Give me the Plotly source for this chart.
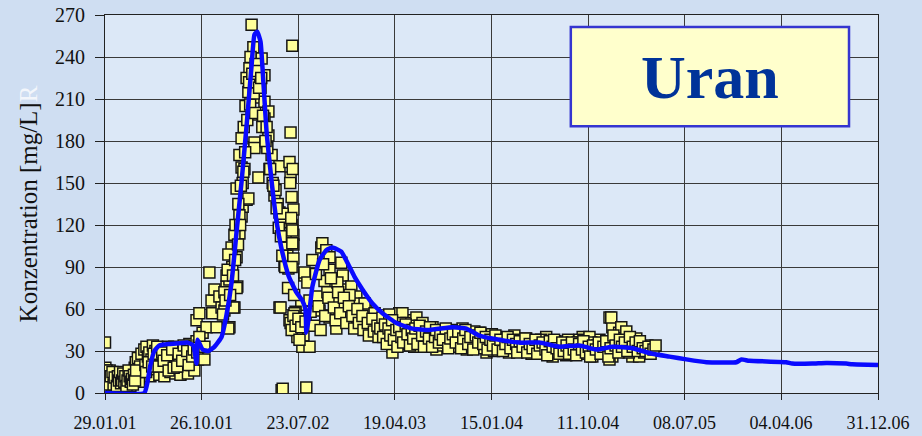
import pandas as pd
import plotly.graph_objects as go

# Start of the measurement series; all x values are days counted from here
START = pd.Timestamp("2001-01-29")

# Measured uranium concentrations (days since start, mg/L)
meas_days = [
    0, 1, 2, 3, 5, 7, 9, 11, 13, 15, 18, 20, 23, 26, 29, 32, 35, 38, 41, 44,
    47, 50, 53, 56, 59, 62, 65, 68, 71, 74, 77, 80, 83, 86, 89, 92, 95, 98, 102, 106,
    4, 8, 12, 16, 21, 24, 27, 33, 36, 39, 42, 45, 48, 51, 54, 57, 60, 63, 66, 69,
    72, 75, 78, 81, 84, 87,
    110, 113, 116, 120, 124, 127, 130, 134, 138, 141, 144, 148, 152, 155, 158, 162, 166, 169, 172, 176,
    180, 183, 186, 190, 194, 197, 200, 204, 208, 211, 214, 218, 222, 225, 228, 232, 236, 239, 242, 246,
    250, 253, 256, 260,
    115, 122, 132, 136, 146, 150, 160, 164, 174, 178, 188, 192, 202, 206, 216, 220, 230, 234, 244, 248,
    258, 262,
    256, 264, 273, 278, 284, 292, 298, 300, 306, 312, 320, 326, 334, 340, 348, 348, 356, 362, 368, 370,
    376, 382, 385, 396, 264, 278,
    410, 524, 415, 438, 404, 446, 396, 401, 429, 446, 410, 457, 446, 382, 418, 457, 519, 376, 418, 466,
    488, 516, 519, 429, 382, 368, 401, 474, 376, 488, 522, 527, 499, 522, 362, 527, 354, 508, 527, 345,
    502, 513, 340, 368, 334, 488, 359, 345, 530, 527, 541, 555, 549, 558, 494, 497, 563, 491,
    407, 421, 426, 393, 435, 440, 388, 454, 460, 469, 477, 483, 497, 505, 510, 390, 385, 373, 365,
    330, 337, 343, 350, 358, 364, 372, 378, 380, 387, 392, 398, 403, 406, 412, 416, 420, 424, 431, 437,
    442, 449, 452, 462, 471, 480, 486, 492, 496, 504, 512, 518, 521, 525, 527, 529, 533, 536,
    524, 524, 522, 516, 530, 535, 538, 552, 572, 552, 558, 566, 572, 580, 594, 605, 608, 619, 628, 600,
    628, 647, 656, 628, 636, 661, 665, 656, 678, 689, 703, 712, 731, 740, 759, 767, 795, 804, 823, 832,
    851, 871, 888, 899,
    519, 522, 527, 533, 541, 544, 549, 561,
    614, 622, 642, 650, 670, 684, 698, 717, 726, 745, 754, 773, 781, 809, 818, 837, 846, 860, 879,
    575, 585, 590, 597, 603, 610, 616, 625, 632, 640, 645, 652, 658, 668, 675, 682, 692, 697, 706, 710,
    720, 723, 735, 738, 748, 752, 762, 765, 770,
    776, 795, 809, 804, 832, 843, 860, 871, 888, 916, 927, 935, 963, 1000, 1019, 1047, 1067, 1095, 1123, 1150,
    1178, 1206, 1234, 1252, 1280, 1308, 1336, 1355, 1383, 1411, 1419, 1438, 1419, 1458, 1475,
    1416, 1444, 1458, 1486, 1517, 1522, 1494, 1411, 1363, 1290, 1327, 1355,
    785, 790, 800, 812, 820, 826, 838, 850, 855, 865, 877, 884, 895, 903, 912, 920, 930, 942, 950, 957,
    970, 978, 985, 993, 1005, 1012, 1026, 1033, 1040, 1055, 1060, 1073, 1082, 1088, 1102, 1110, 1117, 1130, 1138, 1145,
    1157, 1165, 1172, 1185, 1193, 1200, 1213, 1220, 1228, 1240, 1247, 1260, 1267, 1275, 1287, 1295, 1302, 1315, 1322, 1330,
    1342, 1349, 1360, 1370, 1377, 1390, 1398, 1405, 1425, 1432, 1450, 1465, 1472, 1480, 1500, 1508, 1530,
    778, 783, 788, 793, 798, 803, 808, 815, 818, 823, 829, 834, 841, 846, 853, 858, 862, 868, 874, 880,
    887, 892, 898, 906, 909, 915, 923, 926, 934, 938, 945, 953, 960, 966, 973, 981, 988, 996, 1002, 1008,
    1016, 1022, 1030, 1037, 1044, 1050, 1058, 1065, 1070, 1078, 1085, 1092, 1098, 1106, 1113, 1120, 1126, 1134, 1141, 1150,
    1153, 1160, 1168, 1176, 1181, 1188, 1196, 1204, 1209, 1216, 1224, 1232, 1237, 1244, 1252, 1256, 1263, 1271, 1279, 1283,
    1291, 1298, 1306, 1311, 1318, 1326, 1334, 1338, 1345, 1353, 1357, 1365, 1373, 1381, 1386, 1394, 1402, 1408, 1414, 1422,
    1428, 1436, 1440, 1446, 1454, 1461, 1468, 1476, 1484, 1490, 1496, 1504, 1512, 1520, 1526, 1534, 1540,
]
meas_values = [
    36, 18, 15, 12, 8, 14, 5, 10, 16, 7, 12, 4, 9, 13, 6, 11, 8, 14, 5, 10,
    12, 6, 9, 4, 11, 7, 13, 9, 5, 12, 15, 10, 18, 22, 13, 25, 8, 19, 28, 15,
    16, 9, 6, 12, 15, 6, 11, 5, 12, 9, 15, 7, 9, 14, 8, 12, 5, 9, 16, 12,
    8, 10, 6, 13, 9, 16,
    31, 20, 33, 26, 29, 12, 24, 34, 17, 30, 21, 27, 13, 32, 21, 25, 12, 30, 19, 33,
    24, 15, 28, 21, 33, 14, 26, 30, 22, 13, 32, 26, 19, 31, 24, 14, 35, 28, 20, 33,
    16, 30, 37, 24,
    15, 22, 19, 28, 33, 19, 29, 23, 27, 16, 31, 18, 19, 28, 23, 34, 30, 20, 26, 31,
    29, 34,
    52, 57, 43, 24, 47, 86, 66, 57, 74, 47, 69, 61, 59, 76, 81, 47, 90, 61, 97, 76,
    114, 126, 133, 138, 40, 33,
    263, 248, 247, 239, 232, 227, 225, 215, 211, 208, 199, 201, 196, 182, 179, 184, 186, 170, 175, 170,
    162, 165, 154, 154, 161, 146, 139, 141, 127, 129, 140, 131, 122, 120, 113, 113, 104, 104, 106, 99,
    91, 89, 84, 75, 72, 61, 61, 46, 56, 49, 44, 41, 63, 84, 2, 3, 4, 61,
    240, 235, 222, 205, 218, 190, 190, 175, 160, 150, 145, 135, 128, 112, 98, 160, 150, 135, 120,
    56, 66, 88, 70, 84, 95, 106, 120, 148, 158, 172, 195, 222, 206, 228, 214, 200, 230, 218, 225,
    198, 180, 190, 160, 148, 132, 118, 112, 98, 90, 75, 150, 125, 160, 96, 70, 58, 52,
    116, 107, 90, 52, 57, 45, 40, 33, 33, 52, 86, 79, 66, 95, 69, 104, 107, 102, 97, 59,
    54, 46, 59, 88, 76, 93, 84, 66, 74, 76, 69, 64, 59, 52, 43, 52, 45, 33, 57, 43,
    52, 47, 43, 38,
    50, 45, 55, 48, 53, 38, 47, 51,
    80, 72, 66, 79, 62, 70, 58, 55, 64, 48, 57, 50, 44, 48, 40, 47, 36, 44, 41,
    58, 48, 85, 62, 45, 92, 55, 68, 82, 61, 52, 72, 57, 68, 50, 62, 55, 46, 60, 50,
    55, 45, 50, 41, 53, 44, 48, 40, 46,
    54, 56, 36, 29, 57, 50, 40, 54, 50, 47, 31, 38, 43, 46, 33, 43, 29, 40, 33, 31,
    39, 28, 40, 26, 33, 28, 40, 28, 38, 54, 47, 43, 26, 38, 26,
    54, 47, 44, 39, 34, 29, 26, 24, 26, 27, 38, 40,
    44, 38, 48, 42, 35, 50, 45, 37, 48, 33, 44, 38, 46, 35, 42, 37, 44, 34, 41, 36,
    45, 33, 40, 36, 42, 31, 38, 44, 34, 39, 32, 37, 42, 30, 36, 33, 38, 29, 36, 41,
    34, 30, 37, 32, 28, 36, 31, 38, 29, 34, 31, 37, 29, 35, 31, 38, 33, 30, 36, 28,
    34, 31, 36, 30, 34, 29, 35, 31, 36, 30, 33, 29, 35, 31, 33, 29, 31,
    40, 49, 35, 46, 41, 52, 38, 45, 33, 47, 40, 36, 49, 42, 34, 45, 39, 46, 35, 48,
    41, 33, 44, 39, 47, 33, 40, 45, 36, 42, 38, 46, 32, 39, 42, 36, 44, 32, 39, 45,
    35, 40, 31, 41, 36, 43, 35, 40, 31, 38, 34, 41, 31, 38, 30, 35, 40, 32, 38, 35,
    29, 37, 33, 39, 29, 35, 32, 38, 28, 34, 36, 31, 27, 37, 33, 38, 32, 28, 36, 30,
    34, 28, 36, 31, 27, 35, 31, 37, 29, 33, 26, 34, 31, 36, 28, 33, 37, 26, 32, 41,
    34, 29, 38, 33, 36, 30, 40, 33, 36, 30, 37, 32, 30, 33, 28, 31, 34,
]

# Model curve (days since start, mg/L)
model_days = [
    0, 110, 119, 127, 138, 152, 180, 208, 231, 247, 256, 259, 273, 289, 306, 326, 340, 354, 368, 382,
    396, 410, 418, 426, 435, 443, 452, 466, 480, 493, 513, 535, 552, 561, 563, 569, 580, 600, 619, 636,
    661, 678, 698, 720, 748, 776, 815, 860, 907, 972, 1011, 1047, 1103, 1159, 1215, 1271, 1327, 1374, 1419, 1475,
    1531, 1579, 1626, 1682, 1766, 1780, 1802, 1905, 1922, 1978, 2017, 2073, 2090, 2162,
]
model_values = [
    0, 0, 8, 20, 30, 34, 35, 35.5, 36, 34, 21, 38, 31, 30, 33, 40, 56, 79, 115, 151,
    191, 234, 256, 258, 251, 222, 186, 151, 122, 104, 84, 72, 66, 59, 43, 52, 76, 95, 102, 104,
    101, 93, 83, 74, 64, 57, 50, 46, 45, 47, 46, 41, 38, 36, 36, 33, 34, 31, 33, 32,
    28, 26, 24, 22, 22, 24, 23, 22, 21, 21, 21.5, 21, 20.5, 20,
]

# Axis ticks
tick_dates = ["2001-01-29", "2001-10-26", "2002-07-23", "2003-04-19", "2004-01-15",
              "2004-10-11", "2005-07-08", "2006-04-04", "2006-12-31"]
tick_labels = ["29.01.01", "26.10.01", "23.07.02", "19.04.03", "15.01.04",
               "11.10.04", "08.07.05", "04.04.06", "31.12.06"]
y_ticks = [0, 30, 60, 90, 120, 150, 180, 210, 240, 270]


def to_dates(days):
    return START + pd.to_timedelta(pd.Series(days, dtype=float), unit="D")


fig = go.Figure()
fig.add_trace(go.Scatter(
    x=to_dates(meas_days), y=meas_values, mode="markers",
    marker=dict(symbol="square", size=11, color="#ffff99",
                line=dict(color="#151515", width=1.5)),
    showlegend=False, hoverinfo="skip",
))
fig.add_trace(go.Scatter(
    x=to_dates(model_days), y=model_values, mode="lines",
    line=dict(color="#0a0aff", width=4.5, shape="spline", smoothing=0.4),
    showlegend=False, hoverinfo="skip",
))

serif = "Liberation Serif"

fig.update_layout(
    width=922, height=436,
    margin=dict(l=105, r=44, t=15, b=43),
    paper_bgcolor="#cfdef2",
    plot_bgcolor="#dce8f7",
    font=dict(family=serif, color="#111111"),
    xaxis=dict(
        type="date", range=[tick_dates[0], tick_dates[-1]],
        tickvals=tick_dates, ticktext=tick_labels,
        tickfont=dict(size=18, family=serif, color="#111111"),
        ticks="outside", ticklen=6, tickcolor="#222222", tickwidth=1,
        ticklabelstandoff=7,
        showgrid=True, gridcolor="#3a3a3a", gridwidth=1,
        showline=True, linecolor="#222222", linewidth=1, mirror=True,
        zeroline=False, automargin=False,
    ),
    yaxis=dict(
        range=[0, 270], tickvals=y_ticks,
        tickfont=dict(size=20, family=serif, color="#111111"),
        ticks="outside", ticklen=9, tickcolor="#222222", tickwidth=1,
        ticklabelstandoff=6,
        showgrid=True, gridcolor="#3a3a3a", gridwidth=1,
        showline=True, linecolor="#222222", linewidth=1, mirror=True,
        zeroline=False, automargin=False,
        title=dict(
            text="Konzentration [mg/L]<span style='color:rgba(255,255,255,0.75)'>R</span>",
            font=dict(size=25, family=serif, color="#111111"),
            standoff=10,
        ),
    ),
    shapes=[dict(
        type="rect", xref="paper", yref="paper",
        x0=0.6026, x1=0.9625, y0=0.706, y1=0.968,
        fillcolor="#ffffcc", line=dict(color="#3535d0", width=2.5),
        layer="above",
    )],
    annotations=[dict(
        text="<b>Uran</b>", xref="paper", yref="paper",
        x=0.7826, y=0.837, xanchor="center", yanchor="middle",
        showarrow=False,
        font=dict(size=62, family=serif, color="#003399"),
    )],
)

fig.write_html("out.html")
